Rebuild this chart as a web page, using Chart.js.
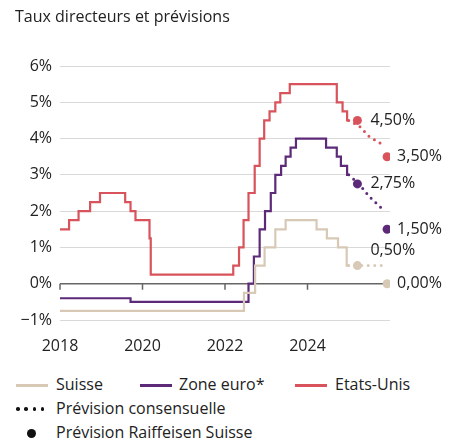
<!DOCTYPE html>
<html>
<head>
<meta charset="utf-8">
<script src="https://cdn.jsdelivr.net/npm/chart.js@4.4.1/dist/chart.umd.min.js"></script>
<style>
  body { margin: 0; background: #fff; font-family: "Open Sans", sans-serif; color: #222; }
  #wrap { position: relative; width: 467px; height: 444px; overflow: hidden; }
  #title { position: absolute; left: 15px; top: 5px; font-size: 16px; }
  #chartBox { position: absolute; left: 0; top: 0; }
  .lg { position: absolute; font-size: 16px; line-height: 20px; white-space: nowrap; }
  .sw { position: absolute; height: 3px; width: 32px; }
</style>
</head>
<body>
<div id="wrap">
  <canvas id="chartBox" width="467" height="372"></canvas>
  <div id="title">Taux directeurs et prévisions</div>
  <div id="legend"></div>
</div>
<script>
// policy rates, decimal year of each change (step data)
const chDates = [2018.0, 2022.46, 2022.73, 2022.96, 2023.22, 2023.47, 2024.22, 2024.47, 2024.74, 2024.95, 2025.0];
const chRates = [-0.75, -0.25, 0.5, 1.0, 1.5, 1.75, 1.5, 1.25, 1.0, 0.5, 0.5];

const euDates = [2018.0, 2019.71, 2022.57, 2022.7, 2022.84, 2022.97, 2023.11, 2023.22, 2023.36, 2023.47, 2023.59, 2023.72, 2024.45, 2024.71, 2024.81, 2024.96, 2025.0];
const euRates = [-0.4, -0.5, 0.0, 0.75, 1.5, 2.0, 2.5, 3.0, 3.25, 3.5, 3.75, 4.0, 3.75, 3.5, 3.25, 3.0, 3.0];

const usDates = [2018.0, 2018.22, 2018.45, 2018.73, 2018.97, 2019.58, 2019.71, 2019.83, 2020.17, 2020.2, 2022.2, 2022.34, 2022.45, 2022.57, 2022.72, 2022.84, 2022.95, 2023.08, 2023.22, 2023.34, 2023.57, 2024.71, 2024.85, 2024.96, 2025.0];
const usRates = [1.5, 1.75, 2.0, 2.25, 2.5, 2.25, 2.0, 1.75, 1.25, 0.25, 0.5, 1.0, 1.75, 2.5, 3.25, 4.0, 4.5, 4.75, 5.0, 5.25, 5.5, 5.0, 4.75, 4.5, 4.5];

// consensus forecasts (dotted)
const consDates = [2025.0, 2025.25, 2025.5, 2025.87];
const chCons = [0.5, 0.5, 0.5, 0.5];
const euCons = [3.0, 2.75, 2.4, 2.0];
const usCons = [4.5, 4.35, 4.05, 3.8];

// Raiffeisen forecasts (dots)
const raifDates = [2025.21, 2025.93];
const chRaif = [0.5, 0.0];
const euRaif = [2.75, 1.5];
const usRaif = [4.5, 3.5];

const yTicks = [-1, 0, 1, 2, 3, 4, 5, 6];
const xTicks = [2018, 2020, 2022, 2024];

const colCH = '#d8c9b7';
const colEU = '#5c2a78';
const colUS = '#d8535b';
const font = '"Open Sans", sans-serif';

const pts = (xs, ys) => xs.map((x, i) => ({ x: x, y: ys[i] }));
const pct = v => v.toFixed(2).replace('.', ',') + '%';

function stepSet(xs, ys, color) {
  return { data: pts(xs, ys), borderColor: color, borderWidth: 2.2, stepped: 'before', pointRadius: 0, fill: false };
}
function dotSet(xs, ys, color) {
  return { data: pts(xs, ys), borderColor: color, borderWidth: 3, borderDash: [0, 6.5], borderCapStyle: 'round', pointRadius: 0, fill: false, tension: 0 };
}
function raifSet(xs, ys, color, dy) {
  return { data: pts(xs, ys), showLine: false, pointRadius: 4.5, pointBackgroundColor: color, pointBorderWidth: 0, raif: true, labelDy: dy };
}

// dark zero line with year tick marks
const zeroLine = {
  id: 'zeroLine',
  beforeDatasetsDraw(chart) {
    const { ctx, chartArea: a, scales: { x, y } } = chart;
    const y0 = y.getPixelForValue(0);
    ctx.save();
    ctx.strokeStyle = '#666';
    ctx.lineWidth = 1.5;
    ctx.beginPath();
    ctx.moveTo(a.left, y0);
    ctx.lineTo(a.right, y0);
    xTicks.forEach(t => {
      const px = x.getPixelForValue(t);
      ctx.moveTo(px, y0);
      ctx.lineTo(px, y0 + 6);
    });
    ctx.stroke();
    ctx.restore();
  }
};

// value labels next to Raiffeisen dots
const raifLabels = {
  id: 'raifLabels',
  afterDatasetsDraw(chart) {
    const ctx = chart.ctx;
    ctx.save();
    ctx.font = '16px ' + font;
    ctx.fillStyle = '#222';
    ctx.textBaseline = 'middle';
    chart.data.datasets.forEach((ds, i) => {
      if (!ds.raif) return;
      chart.getDatasetMeta(i).data.forEach((el, j) => {
        const dx = j === 0 ? 13 : 10;
        const dy = ds.labelDy[j];
        ctx.fillText(pct(ds.data[j].y), el.x + dx, el.y + dy);
      });
    });
    ctx.restore();
  }
};

new Chart(document.getElementById('chartBox'), {
  type: 'line',
  data: {
    datasets: [
      stepSet(chDates, chRates, colCH),
      stepSet(euDates, euRates, colEU),
      stepSet(usDates, usRates, colUS),
      dotSet(consDates, chCons, colCH),
      dotSet(consDates, euCons, colEU),
      dotSet(consDates, usCons, colUS),
      raifSet(raifDates, chRaif, colCH, [-15, 0]),
      raifSet(raifDates, euRaif, colEU, [0, 0]),
      raifSet(raifDates, usRaif, colUS, [0, 0])
    ]
  },
  options: {
    responsive: false,
    animation: false,
    layout: { padding: { left: 0, right: 77, top: 66, bottom: 12 } },
    plugins: { legend: { display: false }, tooltip: { enabled: false }, title: { display: false } },
    scales: {
      x: {
        type: 'linear', min: 2018, max: 2026,
        grid: { display: false }, border: { display: false },
        afterBuildTicks: s => { s.ticks = xTicks.map(v => ({ value: v })); },
        ticks: { padding: 9, color: '#222', font: { size: 16, family: font }, callback: v => String(v), maxRotation: 0 },
        afterFit: s => { s.height = 40; }
      },
      y: {
        min: -1, max: 6,
        afterBuildTicks: s => { s.ticks = yTicks.map(v => ({ value: v })); },
        grid: { color: '#d9d9d9', lineWidth: 1, drawTicks: false },
        border: { display: false },
        ticks: { padding: 8, color: '#222', font: { size: 16, family: font }, callback: v => (v < 0 ? '\u2212' + (-v) : v) + '%' },
        afterFit: s => { s.width = 60; }
      }
    }
  },
  plugins: [zeroLine, raifLabels]
});

// legend
const legend = document.getElementById('legend');
const lgItems = [
  { kind: 'line', color: colCH, x: 16, y: 385, text: 'Suisse', tx: 56 },
  { kind: 'line', color: colEU, x: 140, y: 385, text: 'Zone euro*', tx: 179 },
  { kind: 'line', color: colUS, x: 295, y: 385, text: 'Etats-Unis', tx: 335 },
  { kind: 'dots', color: '#111', x: 16, y: 409, text: 'Prévision consensuelle', tx: 56 },
  { kind: 'dot', color: '#111', x: 31, y: 433, text: 'Prévision Raiffeisen Suisse', tx: 56 }
];
lgItems.forEach(it => {
  if (it.kind === 'line') {
    const s = document.createElement('div');
    s.className = 'sw';
    s.style.left = it.x + 'px';
    s.style.top = (it.y - 1.5) + 'px';
    s.style.background = it.color;
    legend.appendChild(s);
  } else if (it.kind === 'dots') {
    for (let k = 0; k < 4; k++) {
      const d = document.createElement('div');
      d.style.cssText = `position:absolute;width:3.5px;height:3.5px;border-radius:50%;background:${it.color};left:${it.x + k * 8.3}px;top:${it.y - 1.7}px`;
      legend.appendChild(d);
    }
  } else {
    const d = document.createElement('div');
    d.style.cssText = `position:absolute;width:9px;height:9px;border-radius:50%;background:${it.color};left:${it.x - 4.5}px;top:${it.y - 4.5}px`;
    legend.appendChild(d);
  }
  const t = document.createElement('div');
  t.className = 'lg';
  t.textContent = it.text;
  t.style.left = it.tx + 'px';
  t.style.top = (it.y - 11) + 'px';
  legend.appendChild(t);
});
</script>
</body>
</html>
